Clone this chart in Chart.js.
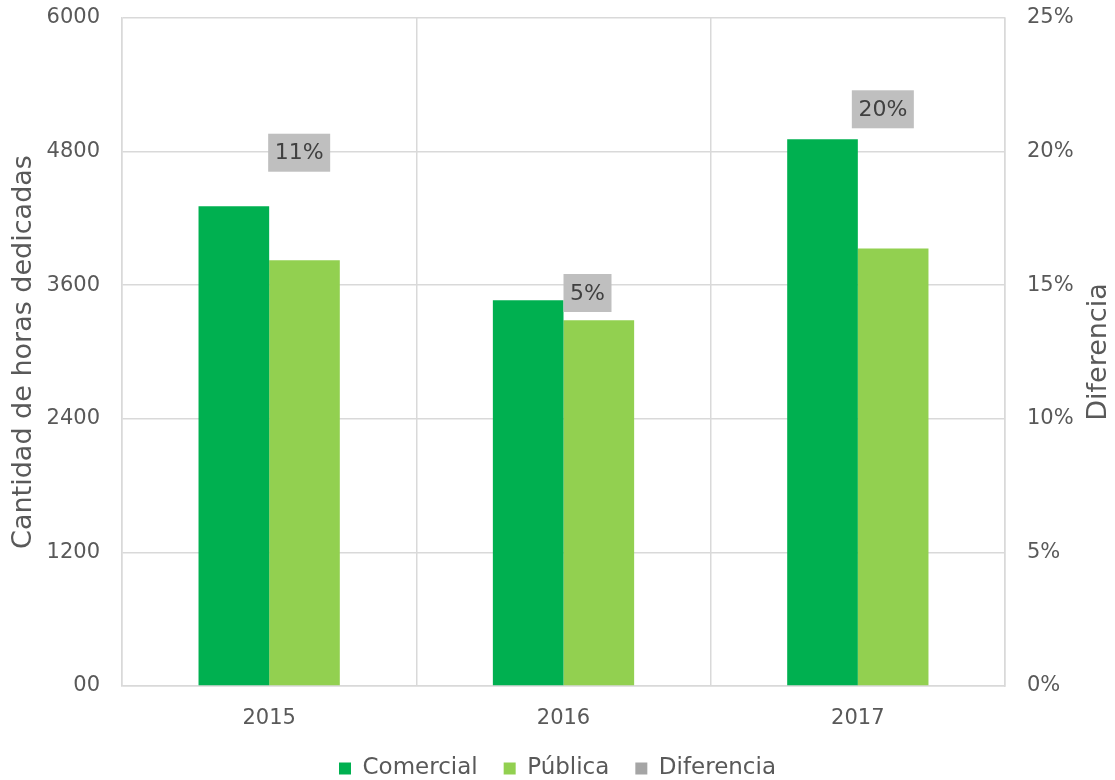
<!DOCTYPE html>
<html lang="es">
<head>
    <meta charset="UTF-8">
    <title>Horas dedicadas por año</title>
    <style>
        html, body { margin: 0; padding: 0; background: #fff; }
        #wrap { width: 1115px; height: 780px; }
    </style>
</head>
<body>
    <div id="wrap"><canvas id="horasChart" width="1115" height="780"></canvas></div>

    <script src="https://cdn.jsdelivr.net/npm/chart.js"></script>
    <script>
        const categories = ['2015', '2016', '2017'];
        const comercial = [4310, 3465, 4910];
        const publica = [3825, 3285, 3930];
        const diferencia = [11, 5, 20];          // %
        const horasTicks = [0, 1200, 2400, 3600, 4800, 6000];
        const difTicks = [0, 5, 10, 15, 20, 25];

        const FONT = '"DejaVu Sans", sans-serif';
        const TEXT = '#595959';
        const GRID = '#D9D9D9';

        // boxes with the Diferencia value, anchored in left-axis units above each pair
        const difLabels = {
            id: 'difLabels',
            afterDatasetsDraw(chart, args, opts) {
                const ctx = chart.ctx;
                const x = chart.scales.x, y = chart.scales.y;
                ctx.save();
                ctx.font = '22px ' + FONT;
                ctx.textAlign = 'center';
                ctx.textBaseline = 'middle';
                diferencia.forEach((v, i) => {
                    const cx = x.getPixelForValue(i) + opts.dx[i];
                    const cy = y.getPixelForValue(opts.anchor[i]);
                    const w = opts.width[i], h = 38;
                    ctx.fillStyle = '#BFBFBF';
                    ctx.fillRect(cx - w / 2, cy - h / 2, w, h);
                    ctx.fillStyle = '#404040';
                    ctx.fillText(v + '%', cx, cy + 1);
                });
                ctx.restore();
            }
        };

        // right axis title, reading bottom-to-top like the left one
        const rightTitle = {
            id: 'rightTitle',
            afterDraw(chart, args, opts) {
                const ctx = chart.ctx;
                const area = chart.chartArea;
                ctx.save();
                ctx.translate(opts.x, (area.top + area.bottom) / 2);
                ctx.rotate(-Math.PI / 2);
                ctx.font = '27px ' + FONT;
                ctx.fillStyle = TEXT;
                ctx.textAlign = 'center';
                ctx.textBaseline = 'middle';
                ctx.fillText(opts.text, 0, 0);
                ctx.restore();
            }
        };

        // fixed axis width; tick labels may overhang the plot top/bottom
        const fitVertical = width => s => {
            s.width = width;
            s.paddingTop = 0;
            s.paddingBottom = 0;
        };

        new Chart(document.getElementById('horasChart'), {
            type: 'bar',
            data: {
                labels: categories,
                datasets: [
                    {
                        label: 'Comercial',
                        data: comercial,
                        backgroundColor: '#00B050',
                        yAxisID: 'y',
                        categoryPercentage: 0.48,
                        barPercentage: 1.0
                    },
                    {
                        label: 'Pública',
                        data: publica,
                        backgroundColor: '#92D050',
                        yAxisID: 'y',
                        categoryPercentage: 0.48,
                        barPercentage: 1.0
                    },
                    {
                        type: 'line',
                        label: 'Diferencia',
                        data: diferencia,
                        yAxisID: 'y2',
                        showLine: false,
                        pointRadius: 0,
                        borderWidth: 0,
                        backgroundColor: '#A5A5A5',
                        borderColor: '#A5A5A5'
                    }
                ]
            },
            options: {
                responsive: false,
                animation: false,
                layout: { padding: { top: 18, bottom: -10, left: 0, right: 0 } },
                plugins: {
                    tooltip: { enabled: false },
                    legend: {
                        position: 'bottom',
                        labels: {
                            boxWidth: 12,
                            boxHeight: 12,
                            padding: 26,
                            color: TEXT,
                            font: { family: FONT, size: 23 }
                        }
                    },
                    difLabels: {
                        anchor: [4790, 3530, 5180],
                        dx: [30, 24, 25],
                        width: [62, 48, 62]
                    },
                    rightTitle: { text: 'Diferencia', x: 1099 }
                },
                scales: {
                    x: {
                        grid: { color: GRID, lineWidth: 1.5, drawTicks: false, offset: true },
                        border: { color: GRID, width: 1.5 },
                        ticks: { color: TEXT, padding: 20, font: { family: FONT, size: 21 } },
                        afterFit: s => { s.height = 45; }
                    },
                    y: {
                        position: 'left',
                        min: 0,
                        max: 6000,
                        afterBuildTicks: s => { s.ticks = horasTicks.map(v => ({ value: v })); },
                        grid: { color: GRID, lineWidth: 1.5, drawTicks: false },
                        border: { color: GRID, width: 1.5 },
                        ticks: {
                            color: TEXT,
                            padding: 22,
                            font: { family: FONT, size: 21 },
                            callback: v => v === 0 ? '00' : String(v)
                        },
                        title: {
                            display: true,
                            text: 'Cantidad de horas dedicadas',
                            color: TEXT,
                            font: { family: FONT, size: 27 },
                            padding: { top: 8, bottom: 0 }
                        },
                        afterFit: fitVertical(122)
                    },
                    y2: {
                        position: 'right',
                        min: 0,
                        max: 25,
                        afterBuildTicks: s => { s.ticks = difTicks.map(v => ({ value: v })); },
                        grid: { drawOnChartArea: false, drawTicks: false },
                        border: { color: GRID, width: 1.5 },
                        ticks: {
                            color: TEXT,
                            padding: 22,
                            font: { family: FONT, size: 21 },
                            callback: v => v + '%'
                        },
                        afterFit: fitVertical(110)
                    }
                }
            },
            plugins: [difLabels, rightTitle]
        });
    </script>
</body>
</html>
